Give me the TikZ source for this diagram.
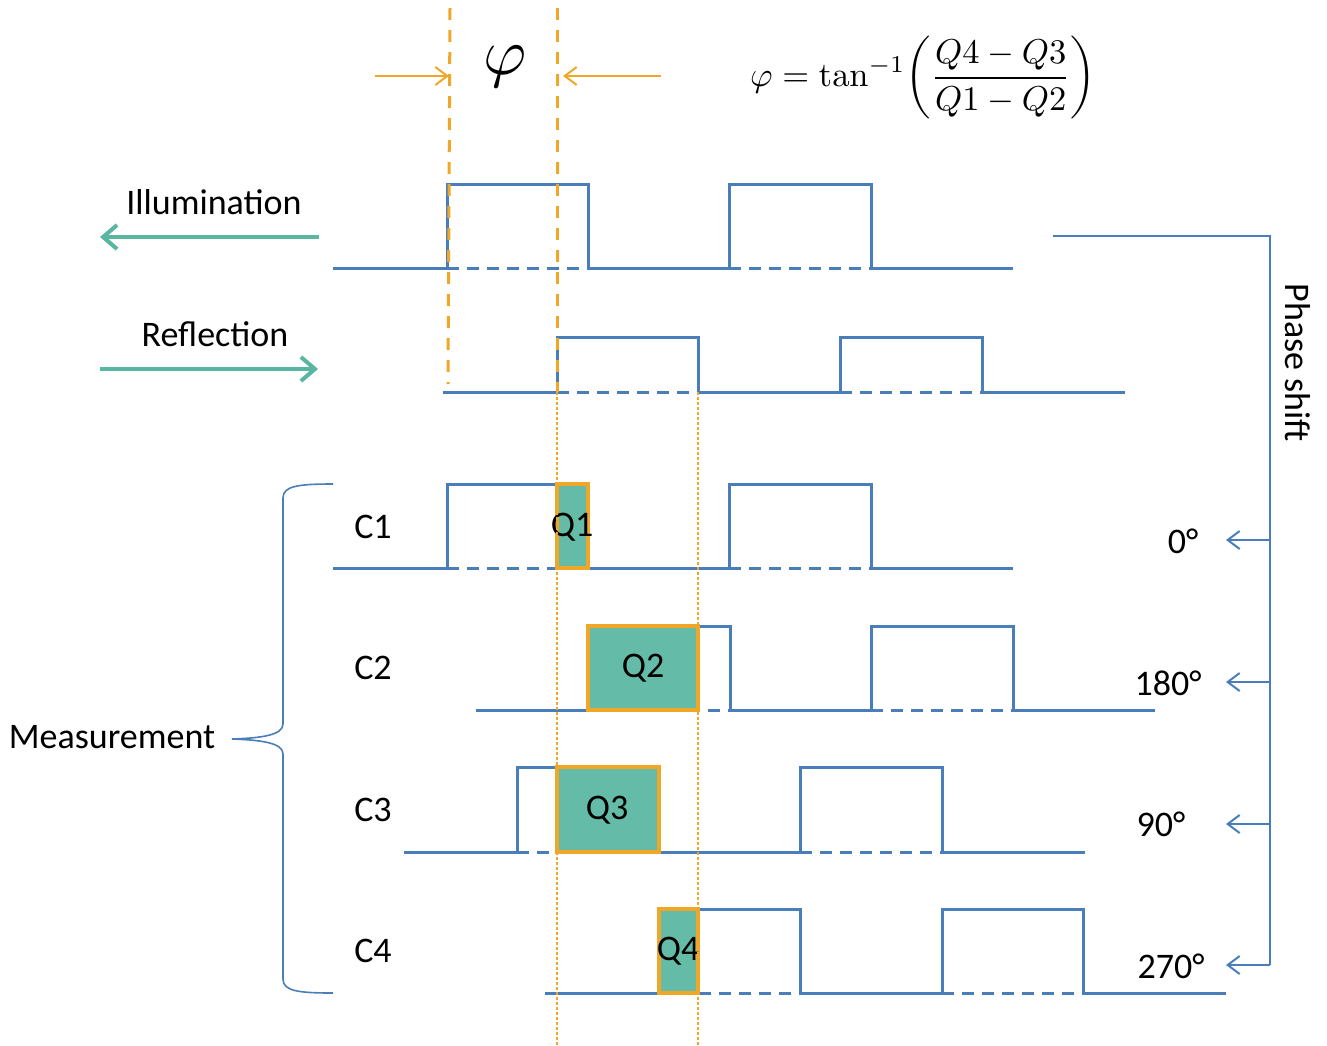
\documentclass[tikz,border=0pt]{standalone}
\usepackage[no-math]{fontspec}
\setmainfont{Carlito}
\usetikzlibrary{arrows.meta}
\definecolor{wblue}{RGB}{74,126,187}
\definecolor{worange}{RGB}{240,167,40}
\definecolor{wteal}{RGB}{99,187,168}
\definecolor{tarrowc}{RGB}{88,182,162}
\newcommand{\sigwave}[8]{%
  \draw[wave] (#3,#1) -- (#4,#1) -- (#4,#2) -- (#5,#2) -- (#5,#1) -- (#6,#1) -- (#6,#2) -- (#7,#2) -- (#7,#1) -- (#8,#1);
  \draw[wdash] (#4,#1) -- (#5,#1) (#6,#1) -- (#7,#1);
}
\begin{document}
\begin{tikzpicture}[x=1pt,y=-1pt,
  wave/.style={wblue, line width=3pt},
  wdash/.style={wblue, line width=3pt, dash pattern=on 12pt off 8pt},
  odash/.style={worange, line width=3pt, dash pattern=on 12pt off 10pt},
  odot/.style={worange, line width=2.5pt, dash pattern=on 2.5pt off 2.5pt},
  oarrow/.style={worange, line width=2pt, -{Straight Barb[length=12pt,width=18pt,line width=2pt]}},
  tarrow/.style={tarrowc, line width=4pt, -{Straight Barb[length=14pt,width=24pt,line width=4pt]}},
  pline/.style={wblue, line width=2pt},
  parrow/.style={wblue, line width=2pt, -{Straight Barb[length=12pt,width=18pt,line width=2pt]}},
  qbox/.style={draw=worange, fill=wteal, line width=4pt},
  lbl/.style={font=\fontsize{36}{43}\selectfont, inner sep=0pt},
]
\useasboundingbox (0,0) rectangle (1327,1045);

% waveforms
\sigwave{268}{184}{333}{447}{588}{729}{871}{1013}
\sigwave{392}{337}{443}{557}{698}{840}{982}{1125}
\sigwave{568}{484}{333}{447}{588}{729}{871}{1013}
\sigwave{710}{626}{476}{588}{730}{871}{1013}{1155}
\sigwave{852}{767}{404}{517}{659}{800}{942}{1085}
\sigwave{993}{909}{545}{659}{800}{942}{1083}{1226}

% Q boxes
\draw[qbox] (557,484) rectangle (588,568);
\draw[qbox] (588,626) rectangle (698,710);
\draw[qbox] (557,767) rectangle (659,852);
\draw[qbox] (659,909) rectangle (698,993);
\node[lbl] (q1) at (572,527) {Q1};
\node[lbl] (q2) at (643,668) {Q2};
\node[lbl] (q3) at (607,810) {Q3};
\node[lbl] (q4) at (678,951) {Q4};

% orange guide lines
\coordinate (g1t) at (450,8);
\coordinate (g1b) at (448,384);
\coordinate (g2t) at (557,8);
\coordinate (g2m) at (557,392);
\coordinate (g2b) at (557,1045);
\coordinate (g3t) at (698,392);
\coordinate (g3b) at (698,1045);
\draw[odash] (g1t) -- (g1b);
\draw[odash] (g2t) -- (g2m);
\draw[odot] (g2m) -- (g2b);
\draw[odot] (g3t) -- (g3b);

% phi arrows
\coordinate (a1s) at (375,76);
\coordinate (a1e) at (449,76);
\coordinate (a2s) at (661,76);
\coordinate (a2e) at (563,76);
\draw[oarrow] (a1s) -- (a1e);
\draw[oarrow] (a2s) -- (a2e);
\node[inner sep=0pt, scale=6.6] (phi) at (505,67) {$\varphi$};
\node[inner sep=0pt, scale=3.45] (formula) at (923,78)
  {$\displaystyle \varphi = \tan^{-1}\!\left(\frac{Q4-Q3}{Q1-Q2}\right)$};

% illumination / reflection
\node[lbl] (illum) at (214,202) {Illumination};
\node[lbl] (refl) at (215,334) {Reflection};
\coordinate (ia) at (319,237);
\coordinate (ib) at (100,237);
\coordinate (ra) at (100,369);
\coordinate (rb) at (318,369);
\draw[tarrow] (ia) -- (ib);
\draw[tarrow] (ra) -- (rb);

% channel labels
\node[lbl] (c1) at (373,527) {C1};
\node[lbl] (c2) at (373,668) {C2};
\node[lbl] (c3) at (373,810) {C3};
\node[lbl] (c4) at (373,951) {C4};

% measurement brace
\node[lbl] (meas) at (112,737) {Measurement};
\draw[pline, line width=1.6pt] (333,484) .. controls (298,484) and (283,486) .. (283,498) -- (283,724)
  .. controls (283,735) and (262,738) .. (232,739)
  .. controls (262,740) and (283,743) .. (283,754) -- (283,979)
  .. controls (283,991) and (298,993) .. (333,993);

% phase shift bracket
\coordinate (ps0) at (1053,236);
\coordinate (ps1) at (1270,540);
\coordinate (ps2) at (1270,682);
\coordinate (ps3) at (1270,824);
\coordinate (ps4) at (1270,965);
\draw[pline] (ps0) -| (ps4);
\node[lbl] (d0) at (1183,541) {0°};
\node[lbl] (d180) at (1168,683) {180°};
\node[lbl] (d90) at (1161,824) {90°};
\node[lbl] (d270) at (1171,966) {270°};
\draw[parrow] (ps1) -- (1226,540);
\draw[parrow] (ps2) -- (1226,682);
\draw[parrow] (ps3) -- (1226,824);
\draw[parrow] (ps4) -- (1226,965);
\node[lbl, rotate=-90] (phase) at (1298,363) {Phase shift};
\end{tikzpicture}
\end{document}
